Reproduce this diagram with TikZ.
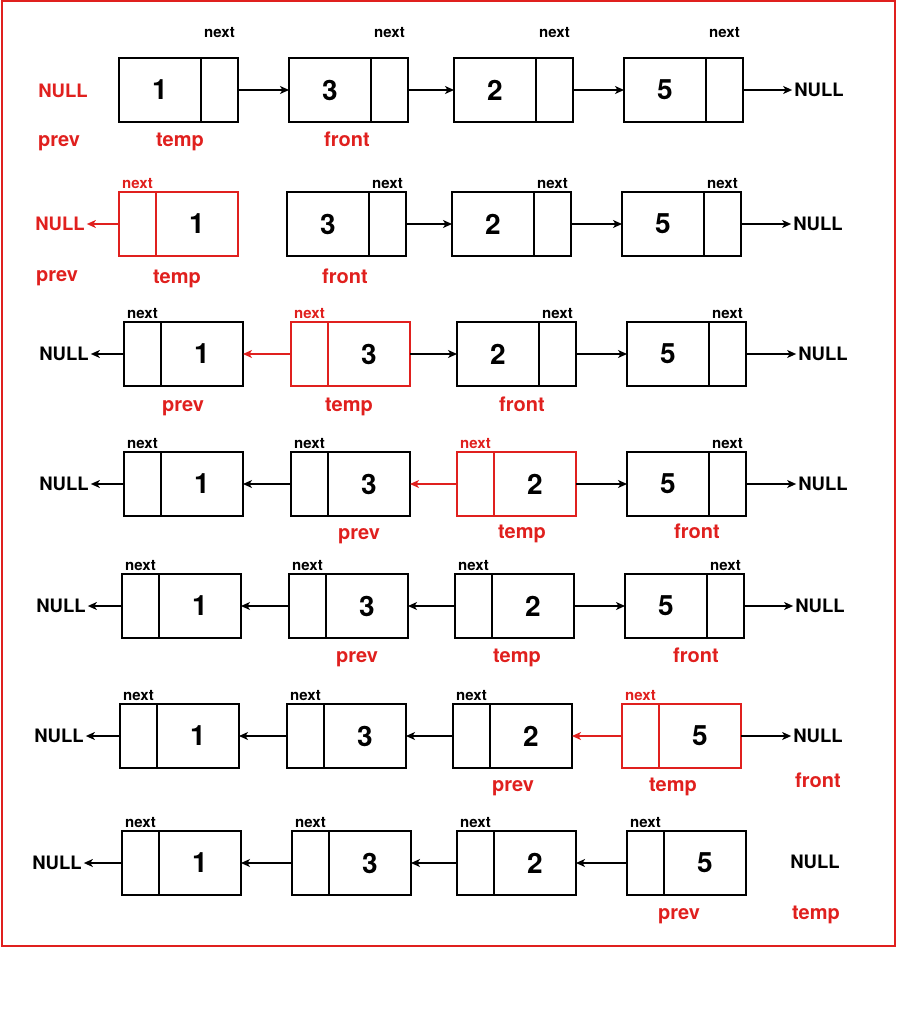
\documentclass[tikz,border=0pt]{standalone}
\usepackage{fontspec}
\setmainfont{TeX Gyre Heros}
\usetikzlibrary{positioning,arrows.meta}
\definecolor{hotred}{HTML}{E0201E}
\tikzset{
cell/.style={rectangle, draw=black, line width=1.6pt, minimum height=64pt, inner sep=0pt, outer sep=0pt},
datacell/.style={cell, minimum width=82pt, font=\fontsize{28}{32}\selectfont\bfseries},
ptrcell/.style={cell, minimum width=37pt, label={[nextlabel, label distance=#1]above:next}},
ptrcell/.default=3pt,
hotptrcell/.style={cell, draw=hotred, minimum width=37pt, label={[nextlabel, text=hotred, label distance=3pt]above:next}},
hot/.style={draw=hotred},
nextlabel/.style={inner sep=0pt, font=\fontsize{15}{18}\selectfont\bfseries},
nulllabel/.style={inner sep=2pt, font=\fontsize{18.5}{22}\selectfont\bfseries},
varlabel/.style={inner sep=0pt, text height=0.75em, text depth=0.22em, yshift=-4pt, text=hotred, font=\fontsize{20}{24}\selectfont\bfseries},
arrow/.style={line width=1.3pt,->,>={Stealth[length=9pt,width=8pt,inset=2.5pt]}},
hotarrow/.style={arrow, color=hotred}}

\begin{document}
\begin{tikzpicture}[x=1pt, y=-1pt]
\useasboundingbox (0,0) rectangle (897,1024);
\draw [hotred, line width=2pt] (2,1.5) rectangle (895,946);

% row 1
\node (a1) [datacell, anchor=west] at (119,90) {1};
\node (a1p) [ptrcell=20pt, right=0pt of a1] {};
\node (a2) [datacell, anchor=west] at (289,90) {3};
\node (a2p) [ptrcell=20pt, right=0pt of a2] {};
\node (a3) [datacell, anchor=west] at (454,90) {2};
\node (a3p) [ptrcell=20pt, right=0pt of a3] {};
\node (a4) [datacell, anchor=west] at (624,90) {5};
\node (a4p) [ptrcell=20pt, right=0pt of a4] {};
\node (a0) [nulllabel, text=hotred] at (63,91) {NULL};
\node (a5) [nulllabel] at (819,90) {NULL};
\node (aprev) [varlabel] at (59,140) {prev};
\node (atemp) [varlabel] at (180,140) {temp};
\node (afront) [varlabel] at (347,140) {front};
\draw [arrow] (a1p.east) -- (a2.west);
\draw [arrow] (a2p.east) -- (a3.west);
\draw [arrow] (a3p.east) -- (a4.west);
\draw [arrow] (a4p.east) -- (a5.west);

% row 2
\node (b1p) [hotptrcell, anchor=west] at (119,224) {};
\node (b1) [datacell, hot, right=0pt of b1p] {1};
\node (b2) [datacell, anchor=west] at (287,224) {3};
\node (b2p) [ptrcell, right=0pt of b2] {};
\node (b3) [datacell, anchor=west] at (452,224) {2};
\node (b3p) [ptrcell, right=0pt of b3] {};
\node (b4) [datacell, anchor=west] at (622,224) {5};
\node (b4p) [ptrcell, right=0pt of b4] {};
\node (b0) [nulllabel, text=hotred] at (60,224) {NULL};
\node (b5) [nulllabel] at (818,224) {NULL};
\node (bprev) [varlabel] at (57,275) {prev};
\node (btemp) [varlabel] at (177,277) {temp};
\node (bfront) [varlabel] at (345,277) {front};
\draw [hotarrow] (b1p.west) -- (b0.east);
\draw [arrow] (b2p.east) -- (b3.west);
\draw [arrow] (b3p.east) -- (b4.west);
\draw [arrow] (b4p.east) -- (b5.west);

% row 3
\node (c1p) [ptrcell, anchor=west] at (124,354) {};
\node (c1) [datacell, right=0pt of c1p] {1};
\node (c2p) [hotptrcell, anchor=west] at (291,354) {};
\node (c2) [datacell, hot, right=0pt of c2p] {3};
\node (c3) [datacell, anchor=west] at (457,354) {2};
\node (c3p) [ptrcell, right=0pt of c3] {};
\node (c4) [datacell, anchor=west] at (627,354) {5};
\node (c4p) [ptrcell, right=0pt of c4] {};
\node (c0) [nulllabel] at (64,354) {NULL};
\node (c5) [nulllabel] at (823,354) {NULL};
\node (cprev) [varlabel] at (183,405) {prev};
\node (ctemp) [varlabel] at (349,405) {temp};
\node (cfront) [varlabel] at (522,405) {front};
\draw [arrow] (c1p.west) -- (c0.east);
\draw [hotarrow] (c2p.west) -- (c1.east);
\draw [arrow] (c2.east) -- (c3.west);
\draw [arrow] (c3p.east) -- (c4.west);
\draw [arrow] (c4p.east) -- (c5.west);

% row 4
\node (d1p) [ptrcell, anchor=west] at (124,484) {};
\node (d1) [datacell, right=0pt of d1p] {1};
\node (d2p) [ptrcell, anchor=west] at (291,484) {};
\node (d2) [datacell, right=0pt of d2p] {3};
\node (d3p) [hotptrcell, anchor=west] at (457,484) {};
\node (d3) [datacell, hot, right=0pt of d3p] {2};
\node (d4) [datacell, anchor=west] at (627,484) {5};
\node (d4p) [ptrcell, right=0pt of d4] {};
\node (d0) [nulllabel] at (64,484) {NULL};
\node (d5) [nulllabel] at (823,484) {NULL};
\node (dprev) [varlabel] at (359,533) {prev};
\node (dtemp) [varlabel] at (522,532) {temp};
\node (dfront) [varlabel] at (697,532) {front};
\draw [arrow] (d1p.west) -- (d0.east);
\draw [arrow] (d2p.west) -- (d1.east);
\draw [hotarrow] (d3p.west) -- (d2.east);
\draw [arrow] (d3.east) -- (d4.west);
\draw [arrow] (d4p.east) -- (d5.west);

% row 5
\node (e1p) [ptrcell, anchor=west] at (122,606) {};
\node (e1) [datacell, right=0pt of e1p] {1};
\node (e2p) [ptrcell, anchor=west] at (289,606) {};
\node (e2) [datacell, right=0pt of e2p] {3};
\node (e3p) [ptrcell, anchor=west] at (455,606) {};
\node (e3) [datacell, right=0pt of e3p] {2};
\node (e4) [datacell, anchor=west] at (625,606) {5};
\node (e4p) [ptrcell, right=0pt of e4] {};
\node (e0) [nulllabel] at (61,606) {NULL};
\node (e5) [nulllabel] at (820,606) {NULL};
\node (eprev) [varlabel] at (357,656) {prev};
\node (etemp) [varlabel] at (517,656) {temp};
\node (efront) [varlabel] at (696,656) {front};
\draw [arrow] (e1p.west) -- (e0.east);
\draw [arrow] (e2p.west) -- (e1.east);
\draw [arrow] (e3p.west) -- (e2.east);
\draw [arrow] (e3.east) -- (e4.west);
\draw [arrow] (e4p.east) -- (e5.west);

% row 6
\node (f1p) [ptrcell, anchor=west] at (120,736) {};
\node (f1) [datacell, right=0pt of f1p] {1};
\node (f2p) [ptrcell, anchor=west] at (287,736) {};
\node (f2) [datacell, right=0pt of f2p] {3};
\node (f3p) [ptrcell, anchor=west] at (453,736) {};
\node (f3) [datacell, right=0pt of f3p] {2};
\node (f4p) [hotptrcell, anchor=west] at (622,736) {};
\node (f4) [datacell, hot, right=0pt of f4p] {5};
\node (f0) [nulllabel] at (59,736) {NULL};
\node (f5) [nulllabel] at (818,736) {NULL};
\node (fprev) [varlabel] at (513,785) {prev};
\node (ftemp) [varlabel] at (673,785) {temp};
\node (ffront) [varlabel] at (818,781) {front};
\draw [arrow] (f1p.west) -- (f0.east);
\draw [arrow] (f2p.west) -- (f1.east);
\draw [arrow] (f3p.west) -- (f2.east);
\draw [hotarrow] (f4p.west) -- (f3.east);
\draw [arrow] (f4.east) -- (f5.west);

% row 7
\node (g1p) [ptrcell, anchor=west] at (122,863) {};
\node (g1) [datacell, right=0pt of g1p] {1};
\node (g2p) [ptrcell, anchor=west] at (292,863) {};
\node (g2) [datacell, right=0pt of g2p] {3};
\node (g3p) [ptrcell, anchor=west] at (457,863) {};
\node (g3) [datacell, right=0pt of g3p] {2};
\node (g4p) [ptrcell, anchor=west] at (627,863) {};
\node (g4) [datacell, right=0pt of g4p] {5};
\node (g0) [nulllabel] at (57,863) {NULL};
\node (g5) [nulllabel] at (815,862) {NULL};
\node (gprev) [varlabel] at (679,913) {prev};
\node (gtemp) [varlabel] at (816,913) {temp};
\draw [arrow] (g1p.west) -- (g0.east);
\draw [arrow] (g2p.west) -- (g1.east);
\draw [arrow] (g3p.west) -- (g2.east);
\draw [arrow] (g4p.west) -- (g3.east);
\end{tikzpicture}
\end{document}
